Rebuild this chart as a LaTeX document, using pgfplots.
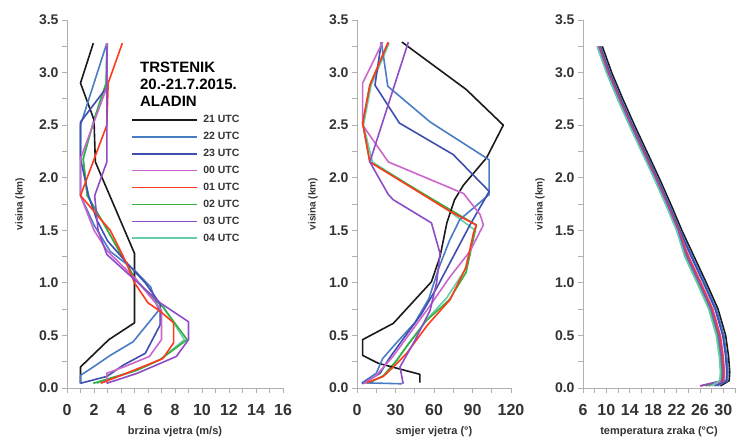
\documentclass[border=0pt]{standalone}
\usepackage{fontspec}
\setmainfont{Liberation Sans}
\usepackage{pgfplots}
\pgfplotsset{compat=1.18}

\definecolor{c21}{HTML}{1A1A1A}
\definecolor{c22}{HTML}{4A7CC4}
\definecolor{c23}{HTML}{3F4FB0}
\definecolor{c00}{HTML}{CC66CC}
\definecolor{c01}{HTML}{FF3A1A}
\definecolor{c02}{HTML}{33B040}
\definecolor{c03}{HTML}{8E4CC6}
\definecolor{c04}{HTML}{66CCAA}
\definecolor{axgray}{HTML}{B0B0B0}
\definecolor{txt}{HTML}{333333}

\pgfplotsset{
  profile/.style={
    scale only axis, height=368pt, ymin=0, ymax=3.5,
    axis lines=left, axis line style={axgray, line width=0.8pt, -},
    tick style={axgray, line width=0.8pt}, tick align=outside,
    major tick length=5pt, minor tick length=5pt,
    ytick={0,0.5,...,3.5}, minor ytick={0.25,0.75,...,3.25},
    /pgf/number format/assume math mode=true,
    yticklabel style={font=\fontsize{14}{14}\selectfont\bfseries, text=txt,
      /pgf/number format/.cd, fixed, fixed zerofill, precision=1},
    xticklabel style={font=\fontsize{16}{16}\selectfont\bfseries, text=txt, yshift=-8pt},
    every axis plot/.append style={line width=1.6pt, line join=round},
    ylabel={visina (km)},
    ylabel style={font=\fontsize{10}{10}\selectfont\bfseries, text=txt, anchor=center},
    xlabel style={font=\fontsize{11}{11}\selectfont\bfseries, text=txt,
      at={(axis description cs:0.5,0)}, yshift=-44pt, anchor=center},
    clip=false,
  },
}

\begin{document}
\begin{tikzpicture}
\path[use as bounding box] (0,0) rectangle (743pt,442pt);

% brzina vjetra
\begin{axis}[profile, at={(67pt,54pt)}, anchor=south west,
  width=216pt, xmin=0, xmax=16, xtick={0,2,...,16}, minor xtick={1,3,...,15},
  xlabel={brzina vjetra (m/s)},
  ylabel style={at={(axis description cs:-0.2176,0.5)}},
  legend style={at={(0.2995,0.7514)}, anchor=north west, draw=none, fill=none,
    inner sep=0pt, outer sep=0pt, row sep=0pt, column sep=5pt,
    nodes={inner sep=0pt, minimum height=16.9pt,
      font=\fontsize{10.5}{10.5}\selectfont\bfseries, text=txt}},
  legend cell align=left,
  legend image code/.code={\draw[#1, line width=1.6pt] (0pt,0pt) -- (65pt,0pt);},
  legend entries={21 UTC, 22 UTC, 23 UTC, 00 UTC, 01 UTC, 02 UTC, 03 UTC, 04 UTC},
]
\addlegendimage{c21}
\addlegendimage{c22}
\addlegendimage{c23}
\addlegendimage{c00}
\addlegendimage{c01}
\addlegendimage{c02}
\addlegendimage{c03}
\addlegendimage{c04}
\addplot[c04, forget plot] coordinates {(2.2,0.045) (5.0,0.16) (6.9,0.27) (8.7,0.46) (7.2,0.76) (6.0,0.9) (5.0,1.05) (4.0,1.27) (3.0,1.5) (1.5,1.83) (1.2,2.18) (2.0,2.55) (2.9,2.9) (3.0,3.28)};
\addplot[c02, forget plot] coordinates {(1.95,0.045) (5.2,0.17) (6.9,0.27) (8.9,0.46) (7.1,0.77) (6.0,0.9) (5.0,1.05) (4.0,1.27) (3.0,1.5) (1.5,1.83) (1.2,2.18) (2.0,2.55) (2.9,2.9) (2.95,3.28)};
\addplot[c21, forget plot] coordinates {(1.0,0.045) (1.0,0.2) (3.1,0.46) (5.0,0.62) (5.0,1.28) (2.1,2.15) (2.0,2.55) (1.0,2.9) (1.95,3.28)};
\addplot[c22, forget plot] coordinates {(1.0,0.045) (1.0,0.12) (1.95,0.2) (3.2,0.31) (4.9,0.44) (6.8,0.74) (6.2,0.96) (5.0,1.12) (3.2,1.3) (2.0,1.55) (1.0,1.83) (1.0,2.5) (2.95,3.28)};
\addplot[c23, forget plot] coordinates {(1.0,0.045) (2.95,0.11) (4.2,0.22) (5.8,0.33) (6.9,0.6) (6.9,0.8) (5.8,1.0) (4.5,1.18) (3.0,1.4) (2.2,1.6) (1.6,1.83) (1.0,2.18) (1.0,2.53) (2.95,2.86) (2.95,3.28)};
\addplot[c00, forget plot] coordinates {(2.95,0.045) (2.95,0.14) (4.2,0.2) (6.1,0.3) (7.0,0.46) (7.0,0.74) (5.0,1.05) (3.0,1.3) (2.0,1.5) (1.0,1.83) (1.0,2.18) (2.95,2.86) (2.95,3.28)};
\addplot[c01, forget plot] coordinates {(2.5,0.045) (4.4,0.14) (7.1,0.28) (7.9,0.43) (7.9,0.62) (6.9,0.73) (6.0,0.81) (5.0,1.0) (4.4,1.19) (3.2,1.5) (1.0,1.83) (2.95,2.5) (3.05,2.9) (4.1,3.28)};
\addplot[c03, forget plot] coordinates {(2.95,0.045) (5.2,0.14) (8.1,0.3) (9.0,0.46) (9.0,0.63) (6.9,0.81) (2.95,1.27) (2.3,1.5) (2.05,1.83) (2.95,2.15) (2.95,3.25)};
\node[anchor=north west, align=left, inner sep=0pt, text=black,
  font=\fontsize{15}{17}\selectfont\bfseries] at (axis cs:5.4,3.10)
  {TRSTENIK\\20.-21.7.2015.\\ALADIN};
\end{axis}

% smjer vjetra
\begin{axis}[profile, at={(357pt,54pt)}, anchor=south west,
  width=154pt, xmin=0, xmax=120, xtick={0,30,...,120}, minor xtick={15,45,75,105},
  xlabel={smjer vjetra (°)},
  ylabel style={at={(axis description cs:-0.2857,0.5)}},
]
\addplot[c04] coordinates {(9,0.045) (21,0.12) (31,0.26) (40,0.42) (55,0.66) (70,0.86) (84,1.12) (92,1.5) (70,1.7) (12,2.15) (5,2.5) (11,2.88) (25,3.28)};
\addplot[c02] coordinates {(8,0.045) (20,0.11) (30,0.25) (39,0.4) (54,0.64) (72,0.84) (85,1.1) (93,1.55) (72,1.7) (10,2.15) (4.4,2.52) (10,2.88) (24,3.28)};
\addplot[c21] coordinates {(49,0.05) (49,0.13) (16.6,0.235) (4.4,0.31) (4.4,0.46) (28.3,0.615) (58,1.01) (64.7,1.25) (70,1.57) (76,1.79) (83,1.93) (101,2.19) (114,2.5) (85,2.84) (35,3.29)};
\addplot[c22] coordinates {(35,0.04) (4,0.05) (15,0.14) (20,0.28) (30,0.42) (45,0.62) (56,0.85) (64,1.15) (72,1.4) (80,1.6) (103,1.84) (103,2.17) (57,2.53) (24,2.87) (19,3.29)};
\addplot[c23] coordinates {(4,0.04) (18,0.14) (25,0.28) (35,0.45) (50,0.7) (62,0.95) (75,1.25) (88,1.55) (103,1.87) (75,2.22) (33,2.52) (14,2.88) (19,3.29)};
\addplot[c00] coordinates {(5,0.04) (15,0.12) (28,0.3) (40,0.5) (55,0.75) (72,1.05) (88,1.3) (98.5,1.55) (95.9,1.65) (83,1.85) (24.4,2.15) (4.4,2.5) (4.4,2.9) (20,3.29)};
\addplot[c01] coordinates {(7.5,0.05) (20.5,0.11) (30,0.22) (38.7,0.33) (55,0.6) (72.5,0.84) (85,1.15) (90.7,1.47) (93,1.55) (72.5,1.68) (10,2.15) (4.4,2.52) (10,2.88) (24.4,3.29)};
\addplot[c03] coordinates {(36,0.04) (33.5,0.2) (45,0.45) (57,0.74) (62,1.0) (64.7,1.28) (58,1.57) (28.3,1.79) (24.4,1.84) (10,2.15) (40,3.29)};
\end{axis}

% temperatura zraka
\begin{axis}[profile, at={(583pt,54pt)}, anchor=south west,
  width=152pt, xmin=6, xmax=32, xtick={6,10,...,30}, minor xtick={8,12,...,32},
  xlabel={temperatura zraka (°C)},
  ylabel style={at={(axis description cs:-0.283,0.5)}},
]
\addplot[c21] coordinates {(9.3,3.25) (10.9,3.0) (12.8,2.75) (14.8,2.5) (16.9,2.25) (19.0,2.0) (21.0,1.75) (22.9,1.5) (25.0,1.25) (27.1,1.0) (29.1,0.75) (30.4,0.5) (30.9,0.3) (31.1,0.15) (31.0,0.07) (29.5,0.02)};
\addplot[c22] coordinates {(9.0,3.25) (10.6,3.0) (12.5,2.75) (14.5,2.5) (16.6,2.25) (18.7,2.0) (20.7,1.75) (22.6,1.5) (24.7,1.25) (26.8,1.0) (28.8,0.75) (30.1,0.5) (30.6,0.3) (30.8,0.15) (30.7,0.07) (29.0,0.02)};
\addplot[c23] coordinates {(8.9,3.25) (10.5,3.0) (12.4,2.75) (14.4,2.5) (16.5,2.25) (18.6,2.0) (20.6,1.75) (22.5,1.5) (24.5,1.25) (26.6,1.0) (28.6,0.75) (29.9,0.5) (30.4,0.3) (30.6,0.15) (30.5,0.07) (28.5,0.02)};
\addplot[c00] coordinates {(8.7,3.25) (10.3,3.0) (12.2,2.75) (14.2,2.5) (16.3,2.25) (18.4,2.0) (20.4,1.75) (22.3,1.5) (24.1,1.25) (26.2,1.0) (28.2,0.75) (29.5,0.5) (30.0,0.3) (30.2,0.15) (30.1,0.07) (27.5,0.02)};
\addplot[c01] coordinates {(8.7,3.25) (10.3,3.0) (12.2,2.75) (14.2,2.5) (16.3,2.25) (18.4,2.0) (20.4,1.75) (22.3,1.5) (24.0,1.25) (26.1,1.0) (28.1,0.75) (29.4,0.5) (29.9,0.3) (30.1,0.15) (30.0,0.07) (26.2,0.02)};
\addplot[c02] coordinates {(8.5,3.25) (10.1,3.0) (12.0,2.75) (14.0,2.5) (16.1,2.25) (18.2,2.0) (20.2,1.75) (22.1,1.5) (23.6,1.25) (25.7,1.0) (27.7,0.75) (29.0,0.5) (29.5,0.3) (29.7,0.15) (29.6,0.07) (27.0,0.02)};
\addplot[c03] coordinates {(8.6,3.25) (10.2,3.0) (12.1,2.75) (14.1,2.5) (16.2,2.25) (18.3,2.0) (20.3,1.75) (22.2,1.5) (23.8,1.25) (25.9,1.0) (27.9,0.75) (29.2,0.5) (29.7,0.3) (29.9,0.15) (29.8,0.07) (26.0,0.02)};
\addplot[c04] coordinates {(8.4,3.25) (10.0,3.0) (11.9,2.75) (13.9,2.5) (16.0,2.25) (18.1,2.0) (20.1,1.75) (22.0,1.5) (23.4,1.25) (25.5,1.0) (27.5,0.75) (28.8,0.5) (29.3,0.3) (29.5,0.15) (29.4,0.07) (28.0,0.02)};
\end{axis}
\end{tikzpicture}
\end{document}
